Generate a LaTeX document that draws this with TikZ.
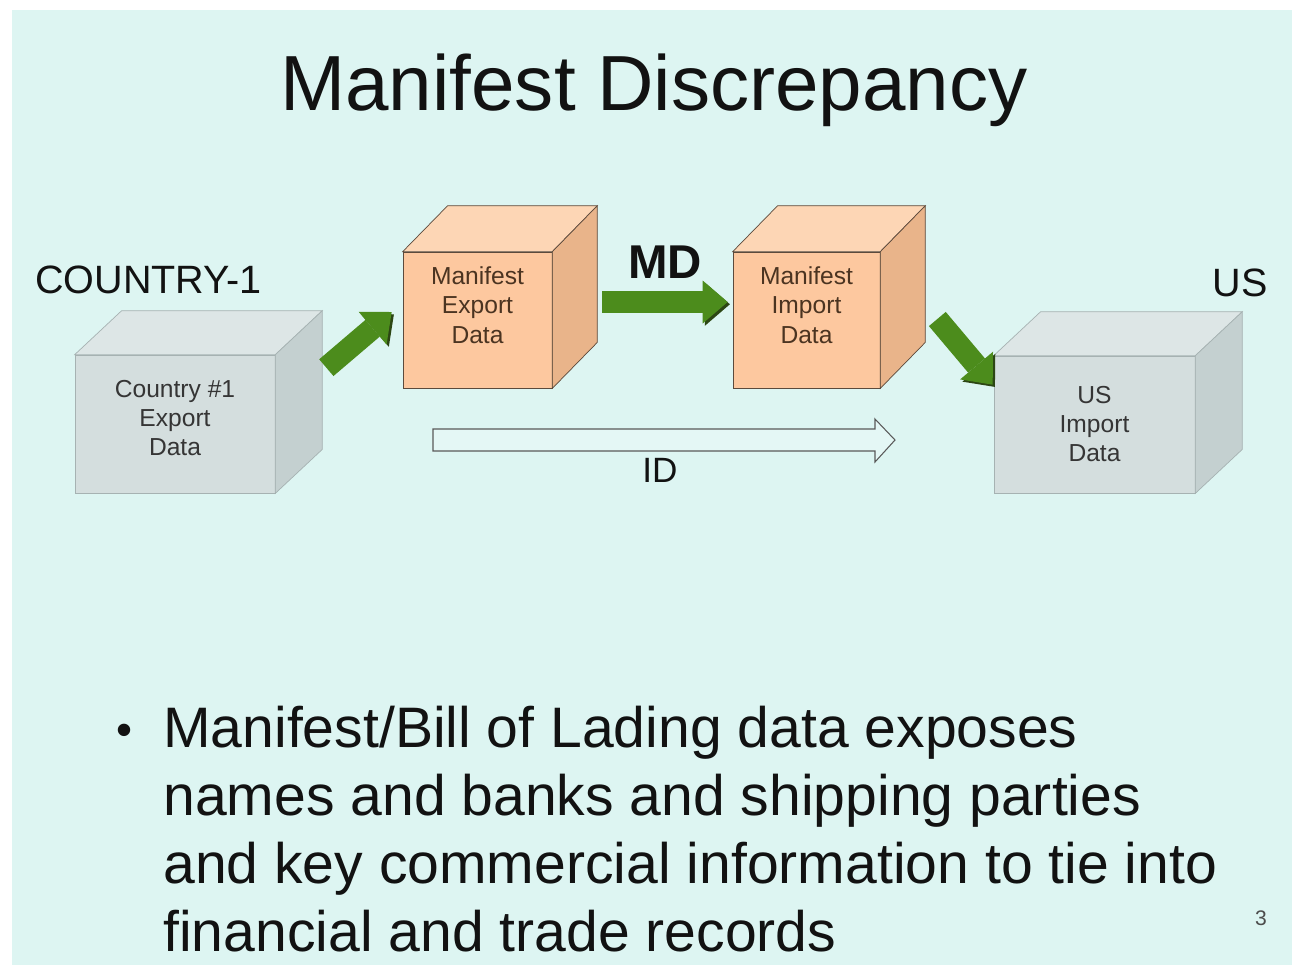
\documentclass[tikz,border=0pt]{standalone}
\usepackage{fontspec}
\setmainfont{Liberation Sans}
\usetikzlibrary{arrows.meta,positioning,calc}
\usepackage{xcolor}
\definecolor{slidebg}{HTML}{DDF5F2}
\definecolor{grayfront}{HTML}{D4DEDE}
\definecolor{graytop}{HTML}{DDE6E6}
\definecolor{grayside}{HTML}{C4D0D0}
\definecolor{grayedge}{HTML}{A6B2B2}
\definecolor{graytext}{HTML}{353535}
\definecolor{orangefront}{HTML}{FDC89F}
\definecolor{orangetop}{HTML}{FDD6B5}
\definecolor{orangeside}{HTML}{E9B48A}
\definecolor{orangeedge}{HTML}{5C4A3C}
\definecolor{orangetext}{HTML}{4B3421}
\definecolor{arrowgreen}{HTML}{4C8C1C}
\definecolor{shadowgreen}{HTML}{2C4614}
\definecolor{inktext}{HTML}{121212}
\tikzset{
  grayblock/.style={draw=grayedge,fill=grayfront,inner sep=0pt,align=center,text=graytext,font=\fontsize{14}{16.5}\selectfont},
  orangeblock/.style={draw=orangeedge,fill=orangefront,inner sep=0pt,align=center,text=orangetext,font=\fontsize{14}{17}\selectfont,text depth=0.6cm},
  caption/.style={inner sep=0pt,text=inktext},
  greenarr/.style={draw=arrowgreen,line width=0.44cm,-{Triangle[length=0.5cm,width=0.86cm,line width=0pt]},
    preaction={draw=shadowgreen,transform canvas={shift={(0.045cm,-0.045cm)}}}},
  hollowarr/.style={draw=black!65,fill=white!20!slidebg,line width=0.6pt,line join=miter}
}
% top and side face of a box drawn behind its front node
\newcommand{\boxfaces}[5]{%
  \draw[draw=#5,fill=#3] (#1.north west) -- ++(#2) -- ($(#1.north east)+(#2)$) -- (#1.north east) -- cycle;
  \draw[draw=#5,fill=#4] (#1.north east) -- ++(#2) -- ($(#1.south east)+(#2)$) -- (#1.south east) -- cycle;}
\begin{document}
\begin{tikzpicture}[x=0.02cm,y=-0.02cm]
  \useasboundingbox (0,0) rectangle (1292,965);
  \fill[white] (0,0) rectangle (1292,965);
  \fill[slidebg] (12,10) rectangle (1292,965);

  \node[caption,anchor=base,font=\fontsize{44.5}{50}\selectfont] (title) at (654,110) {Manifest Discrepancy};
  \node[caption,anchor=base west,font=\fontsize{22.5}{26}\selectfont] (country) at (35,293) {COUNTRY-1};
  \node[caption,anchor=base east,font=\fontsize{22.5}{26}\selectfont] (uslabel) at (1268,296) {US};

  % boxes
  \node[grayblock,minimum width=4cm,minimum height=2.76cm,text depth=0.24cm] (c1) at (175,424) {Country \#1\\Export\\Data};
  \node[orangeblock,minimum width=2.98cm,minimum height=2.72cm] (m1) at (477.5,320) {Manifest\\Export\\Data};
  \node[orangeblock,minimum width=2.94cm,minimum height=2.72cm] (m2) at (806.5,320) {Manifest\\Import\\Data};
  \node[grayblock,minimum width=4.02cm,minimum height=2.74cm] (us) at (1094.5,424.5) {US\\Import\\Data};
  \boxfaces{c1}{47,-44}{graytop}{grayside}{grayedge}
  \boxfaces{m1}{45,-46}{orangetop}{orangeside}{orangeedge}
  \boxfaces{m2}{45,-46}{orangetop}{orangeside}{orangeedge}
  \boxfaces{us}{47,-44}{graytop}{grayside}{grayedge}

  % arrows
  \draw[greenarr] ($(c1.north east)+(51,13)$) -- ($(m1.west)+(-11,-8)$);
  \draw[greenarr] ($(m1.east)+(50,-18)$) -- ($(m2.west)+(-5,-18)$);
  \draw[greenarr] ($(m2.east)+(57,-1)$) -- ($(us.north west)+(-1,29)$);
  \node[caption,anchor=base,font=\bfseries\fontsize{27}{30}\selectfont] (md) at (665,278) {MD};

  \coordinate (idtail) at (433,440);
  \coordinate (idtip) at (895,440);
  \draw[hollowarr] ($(idtail)+(0,-11)$) -- ($(idtip)+(-20,-11)$) -- ($(idtip)+(-20,-21)$) -- (idtip)
    -- ($(idtip)+(-20,22)$) -- ($(idtip)+(-20,11)$) -- ($(idtail)+(0,11)$) -- cycle;
  \node[caption,anchor=base,font=\fontsize{20}{24}\selectfont] (idlabel) at (660,482) {ID};

  % bullet text
  \node[caption,anchor=base west,font=\fontsize{26}{30}\selectfont] (dot) at (116,745) {\textbullet};
  \node[caption,anchor=north west,align=left,font=\fontsize{32.5}{38.6}\selectfont] (body) at (163,706)
    {Manifest/Bill of Lading data exposes\\names and banks and shipping parties\\and key commercial information to tie into\\financial and trade records};
  \node[caption,anchor=base,text=black!70,font=\fontsize{12}{14}\selectfont] (pagenum) at (1261,925) {3};
\end{tikzpicture}
\end{document}
